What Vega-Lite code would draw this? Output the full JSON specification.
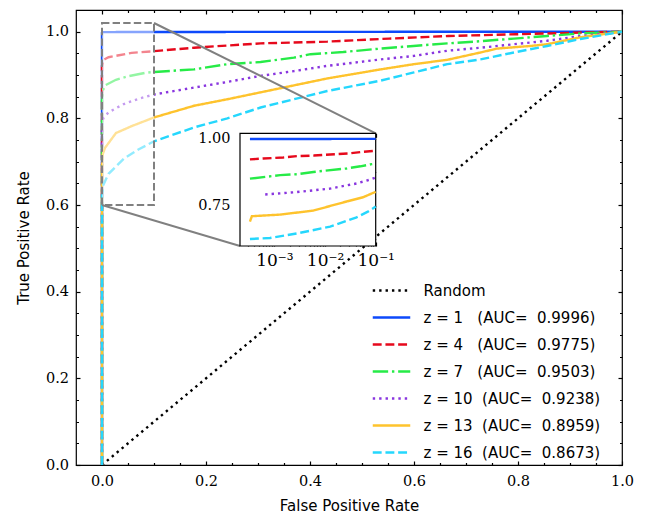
{
  "$schema": "https://vega.github.io/schema/vega-lite/v6.json",
  "width": 546,
  "height": 455,
  "autosize": "none",
  "padding": {"left": 76, "top": 10, "right": 37, "bottom": 49},
  "background": "white",
  "config": {
    "view": {"stroke": "black", "strokeWidth": 1.2},
    "axis": {
      "labelFont": "DejaVu Serif", "labelFontSize": 14.5, "labelColor": "black",
      "titleFont": "DejaVu Sans", "titleFontSize": 15, "titleFontWeight": "normal", "titleColor": "black",
      "domain": false, "ticks": true, "tickColor": "black", "tickWidth": 1.2, "tickSize": 4,
      "grid": false, "labelFlush": false, "labelOverlap": false, "labelBound": false, "zindex": 1
    }
  },
  "datasets": {
    "roc": [
      {"m": "Random", "fpr": 0, "tpr": 0}, {"m": "Random", "fpr": 1, "tpr": 1},
      {"m": "z1", "fpr": 0, "tpr": 0}, {"m": "z1", "fpr": 0, "tpr": 0.998}, {"m": "z1", "fpr": 0.00033, "tpr": 0.999}, {"m": "z1", "fpr": 0.01, "tpr": 0.999}, {"m": "z1", "fpr": 0.1, "tpr": 0.9993}, {"m": "z1", "fpr": 0.5, "tpr": 0.9996}, {"m": "z1", "fpr": 1, "tpr": 1},
      {"m": "z4", "fpr": 0, "tpr": 0}, {"m": "z4", "fpr": 0, "tpr": 0.921}, {"m": "z4", "fpr": 0.00033, "tpr": 0.923}, {"m": "z4", "fpr": 0.0006, "tpr": 0.926}, {"m": "z4", "fpr": 0.0015, "tpr": 0.93}, {"m": "z4", "fpr": 0.0028, "tpr": 0.935}, {"m": "z4", "fpr": 0.006, "tpr": 0.937}, {"m": "z4", "fpr": 0.0126, "tpr": 0.941}, {"m": "z4", "fpr": 0.03, "tpr": 0.945}, {"m": "z4", "fpr": 0.057, "tpr": 0.951}, {"m": "z4", "fpr": 0.1, "tpr": 0.955}, {"m": "z4", "fpr": 0.177, "tpr": 0.963}, {"m": "z4", "fpr": 0.241, "tpr": 0.968}, {"m": "z4", "fpr": 0.305, "tpr": 0.973}, {"m": "z4", "fpr": 0.433, "tpr": 0.977}, {"m": "z4", "fpr": 0.552, "tpr": 0.984}, {"m": "z4", "fpr": 0.666, "tpr": 0.99}, {"m": "z4", "fpr": 0.795, "tpr": 0.994}, {"m": "z4", "fpr": 0.925, "tpr": 0.998}, {"m": "z4", "fpr": 1, "tpr": 1},
      {"m": "z7", "fpr": 0, "tpr": 0}, {"m": "z7", "fpr": 0, "tpr": 0.848}, {"m": "z7", "fpr": 0.00033, "tpr": 0.851}, {"m": "z7", "fpr": 0.0013, "tpr": 0.864}, {"m": "z7", "fpr": 0.003, "tpr": 0.868}, {"m": "z7", "fpr": 0.0059, "tpr": 0.876}, {"m": "z7", "fpr": 0.0268, "tpr": 0.889}, {"m": "z7", "fpr": 0.05, "tpr": 0.897}, {"m": "z7", "fpr": 0.083, "tpr": 0.905}, {"m": "z7", "fpr": 0.1, "tpr": 0.907}, {"m": "z7", "fpr": 0.177, "tpr": 0.913}, {"m": "z7", "fpr": 0.241, "tpr": 0.925}, {"m": "z7", "fpr": 0.305, "tpr": 0.93}, {"m": "z7", "fpr": 0.369, "tpr": 0.94}, {"m": "z7", "fpr": 0.401, "tpr": 0.948}, {"m": "z7", "fpr": 0.464, "tpr": 0.953}, {"m": "z7", "fpr": 0.536, "tpr": 0.961}, {"m": "z7", "fpr": 0.599, "tpr": 0.967}, {"m": "z7", "fpr": 0.664, "tpr": 0.973}, {"m": "z7", "fpr": 0.728, "tpr": 0.978}, {"m": "z7", "fpr": 0.792, "tpr": 0.984}, {"m": "z7", "fpr": 0.856, "tpr": 0.99}, {"m": "z7", "fpr": 0.92, "tpr": 0.996}, {"m": "z7", "fpr": 1, "tpr": 1},
      {"m": "z10", "fpr": 0, "tpr": 0}, {"m": "z10", "fpr": 0, "tpr": 0.785}, {"m": "z10", "fpr": 0.00066, "tpr": 0.792}, {"m": "z10", "fpr": 0.0028, "tpr": 0.801}, {"m": "z10", "fpr": 0.0126, "tpr": 0.814}, {"m": "z10", "fpr": 0.042, "tpr": 0.833}, {"m": "z10", "fpr": 0.07, "tpr": 0.845}, {"m": "z10", "fpr": 0.1, "tpr": 0.855}, {"m": "z10", "fpr": 0.177, "tpr": 0.871}, {"m": "z10", "fpr": 0.241, "tpr": 0.884}, {"m": "z10", "fpr": 0.305, "tpr": 0.898}, {"m": "z10", "fpr": 0.369, "tpr": 0.909}, {"m": "z10", "fpr": 0.433, "tpr": 0.921}, {"m": "z10", "fpr": 0.536, "tpr": 0.936}, {"m": "z10", "fpr": 0.6, "tpr": 0.944}, {"m": "z10", "fpr": 0.664, "tpr": 0.956}, {"m": "z10", "fpr": 0.728, "tpr": 0.963}, {"m": "z10", "fpr": 0.792, "tpr": 0.971}, {"m": "z10", "fpr": 0.856, "tpr": 0.979}, {"m": "z10", "fpr": 0.92, "tpr": 0.99}, {"m": "z10", "fpr": 1, "tpr": 1},
      {"m": "z13", "fpr": 0, "tpr": 0}, {"m": "z13", "fpr": 0, "tpr": 0.69}, {"m": "z13", "fpr": 0.00033, "tpr": 0.691}, {"m": "z13", "fpr": 0.00036, "tpr": 0.711}, {"m": "z13", "fpr": 0.0013, "tpr": 0.717}, {"m": "z13", "fpr": 0.0059, "tpr": 0.732}, {"m": "z13", "fpr": 0.0268, "tpr": 0.766}, {"m": "z13", "fpr": 0.057, "tpr": 0.782}, {"m": "z13", "fpr": 0.1, "tpr": 0.802}, {"m": "z13", "fpr": 0.177, "tpr": 0.829}, {"m": "z13", "fpr": 0.241, "tpr": 0.844}, {"m": "z13", "fpr": 0.305, "tpr": 0.86}, {"m": "z13", "fpr": 0.369, "tpr": 0.876}, {"m": "z13", "fpr": 0.433, "tpr": 0.892}, {"m": "z13", "fpr": 0.536, "tpr": 0.913}, {"m": "z13", "fpr": 0.6, "tpr": 0.925}, {"m": "z13", "fpr": 0.664, "tpr": 0.935}, {"m": "z13", "fpr": 0.728, "tpr": 0.952}, {"m": "z13", "fpr": 0.76, "tpr": 0.961}, {"m": "z13", "fpr": 0.824, "tpr": 0.967}, {"m": "z13", "fpr": 0.856, "tpr": 0.971}, {"m": "z13", "fpr": 0.888, "tpr": 0.979}, {"m": "z13", "fpr": 0.92, "tpr": 0.987}, {"m": "z13", "fpr": 1, "tpr": 1},
      {"m": "z16", "fpr": 0, "tpr": 0}, {"m": "z16", "fpr": 0, "tpr": 0.624}, {"m": "z16", "fpr": 0.00033, "tpr": 0.626}, {"m": "z16", "fpr": 0.00082, "tpr": 0.63}, {"m": "z16", "fpr": 0.0028, "tpr": 0.647}, {"m": "z16", "fpr": 0.0126, "tpr": 0.672}, {"m": "z16", "fpr": 0.042, "tpr": 0.707}, {"m": "z16", "fpr": 0.07, "tpr": 0.728}, {"m": "z16", "fpr": 0.1, "tpr": 0.747}, {"m": "z16", "fpr": 0.177, "tpr": 0.779}, {"m": "z16", "fpr": 0.241, "tpr": 0.8}, {"m": "z16", "fpr": 0.305, "tpr": 0.825}, {"m": "z16", "fpr": 0.369, "tpr": 0.844}, {"m": "z16", "fpr": 0.433, "tpr": 0.863}, {"m": "z16", "fpr": 0.536, "tpr": 0.887}, {"m": "z16", "fpr": 0.6, "tpr": 0.906}, {"m": "z16", "fpr": 0.664, "tpr": 0.925}, {"m": "z16", "fpr": 0.728, "tpr": 0.936}, {"m": "z16", "fpr": 0.792, "tpr": 0.952}, {"m": "z16", "fpr": 0.856, "tpr": 0.967}, {"m": "z16", "fpr": 0.92, "tpr": 0.983}, {"m": "z16", "fpr": 1, "tpr": 1}
    ],
    "box": [{"x0": 0, "x1": 0.1, "y0": 0.6, "y1": 1.02}],
    "conn": [
      {"x0": 0.1, "y0": 1.02, "x1": 0.5264, "y1": 0.7655},
      {"x0": 0, "y0": 0.6, "x1": 0.2654, "y1": 0.5054}
    ],
    "inset": [{"x0": 0.00021, "x1": 0.1, "y0": 0.6, "y1": 1.02}]
  },
  "resolve": {"scale": {"x": "independent", "y": "independent"}},
  "layer": [
    {
      "resolve": {"axis": {"x": "independent", "y": "independent"}},
      "layer": [
        {
          "data": {"name": "roc"},
          "mark": {"type": "line", "strokeWidth": 2.4},
          "encoding": {
            "x": {
              "field": "fpr", "type": "quantitative",
              "scale": {"domain": [-0.05, 1], "nice": false, "zero": false},
              "axis": {
                "orient": "bottom", "offset": -4,
                "values": [0, 0.05, 0.1, 0.15, 0.2, 0.25, 0.3, 0.35, 0.4, 0.45, 0.5, 0.55, 0.6, 0.65, 0.7, 0.75, 0.8, 0.85, 0.9, 0.95, 1],
                "tickDash": {"condition": {"test": "abs(datum.value*5-round(datum.value*5))<0.001", "value": [10, 0]}, "value": [0, 1.5, 2.5, 20]},
                "labelExpr": "abs(datum.value*5-round(datum.value*5))<0.001 ? format(datum.value, '.1f') : ''",
                "labelPadding": 9,
                "title": "False Positive Rate", "titleY": 49, "titleBaseline": "alphabetic"
              }
            },
            "y": {
              "field": "tpr", "type": "quantitative",
              "scale": {"domain": [0, 1.05], "nice": false, "zero": false},
              "axis": {
                "orient": "left", "offset": -4,
                "values": [0, 0.05, 0.1, 0.15, 0.2, 0.25, 0.3, 0.35, 0.4, 0.45, 0.5, 0.55, 0.6, 0.65, 0.7, 0.75, 0.8, 0.85, 0.9, 0.95, 1],
                "tickDash": {"condition": {"test": "abs(datum.value*5-round(datum.value*5))<0.001", "value": [10, 0]}, "value": [0, 1.5, 2.5, 20]},
                "labelExpr": "abs(datum.value*5-round(datum.value*5))<0.001 ? format(datum.value, '.1f') : ''",
                "labelPadding": 7.5,
                "title": "True Positive Rate", "titleX": -51.7, "titleBaseline": "alphabetic"
              }
            },
            "color": {
              "field": "m", "type": "nominal",
              "scale": {"domain": ["Random", "z1", "z4", "z7", "z10", "z13", "z16"], "range": ["#000000", "#0d49fb", "#e6091c", "#26eb47", "#8936df", "#fec32d", "#25d7fd"]},
              "legend": {
                "title": null, "orient": "none", "legendX": 306.5, "legendY": 271.5, "padding": 0,
                "symbolType": "M-2.5,0H2.5", "symbolSize": 225, "symbolStrokeWidth": 2.4,
                "labelFont": "DejaVu Sans", "labelFontSize": 15, "labelColor": "black", "labelLimit": 400,
                "rowPadding": 10, "labelOffset": 23,
                "labelExpr": "datum.label=='Random' ? 'Random' : datum.label=='z1' ? 'z\u00a0=\u00a01\u00a0\u00a0\u00a0(AUC=\u00a0\u00a00.9996)' : datum.label=='z4' ? 'z\u00a0=\u00a04\u00a0\u00a0\u00a0(AUC=\u00a0\u00a00.9775)' : datum.label=='z7' ? 'z\u00a0=\u00a07\u00a0\u00a0\u00a0(AUC=\u00a0\u00a00.9503)' : datum.label=='z10' ? 'z\u00a0=\u00a010\u00a0\u00a0(AUC=\u00a0\u00a00.9238)' : datum.label=='z13' ? 'z\u00a0=\u00a013\u00a0\u00a0(AUC=\u00a0\u00a00.8959)' : 'z\u00a0=\u00a016\u00a0\u00a0(AUC=\u00a0\u00a00.8673)'"
              }
            },
            "strokeDash": {
              "field": "m", "type": "nominal",
              "scale": {"domain": ["Random", "z1", "z4", "z7", "z10", "z13", "z16"], "range": [[2.4, 4], [1, 0], [8.9, 3.8], [15.4, 3.8, 2.4, 3.8], [2.4, 4], [1, 0], [8.9, 3.8]]},
              "legend": {
                "title": null, "orient": "none", "legendX": 306.5, "legendY": 271.5, "padding": 0,
                "symbolType": "M-2.5,0H2.5", "symbolSize": 225, "symbolStrokeWidth": 2.4,
                "labelFont": "DejaVu Sans", "labelFontSize": 15, "labelColor": "black", "labelLimit": 400,
                "rowPadding": 10, "labelOffset": 23,
                "labelExpr": "datum.label=='Random' ? 'Random' : datum.label=='z1' ? 'z\u00a0=\u00a01\u00a0\u00a0\u00a0(AUC=\u00a0\u00a00.9996)' : datum.label=='z4' ? 'z\u00a0=\u00a04\u00a0\u00a0\u00a0(AUC=\u00a0\u00a00.9775)' : datum.label=='z7' ? 'z\u00a0=\u00a07\u00a0\u00a0\u00a0(AUC=\u00a0\u00a00.9503)' : datum.label=='z10' ? 'z\u00a0=\u00a010\u00a0\u00a0(AUC=\u00a0\u00a00.9238)' : datum.label=='z13' ? 'z\u00a0=\u00a013\u00a0\u00a0(AUC=\u00a0\u00a00.8959)' : 'z\u00a0=\u00a016\u00a0\u00a0(AUC=\u00a0\u00a00.8673)'"
              }
            },
            "order": [{"field": "fpr", "type": "quantitative"}, {"field": "tpr", "type": "quantitative"}]
          }
        },
        {
          "data": {"name": "box"},
          "mark": {"type": "rect", "fill": "white", "fillOpacity": 0.5, "stroke": "#808080", "strokeWidth": 2, "strokeDash": [7.4, 3.2]},
          "encoding": {
            "x": {
              "field": "x0", "type": "quantitative",
              "scale": {"domain": [-0.05, 1], "nice": false, "zero": false},
              "axis": {
                "orient": "top", "offset": -4,
                "values": [0, 0.05, 0.1, 0.15, 0.2, 0.25, 0.3, 0.35, 0.4, 0.45, 0.5, 0.55, 0.6, 0.65, 0.7, 0.75, 0.8, 0.85, 0.9, 0.95, 1],
                "tickDash": {"condition": {"test": "abs(datum.value*5-round(datum.value*5))<0.001", "value": [10, 0]}, "value": [0, 1.5, 2.5, 20]},
                "labels": false, "title": null
              }
            },
            "x2": {"field": "x1"},
            "y": {
              "field": "y0", "type": "quantitative",
              "scale": {"domain": [0, 1.05], "nice": false, "zero": false},
              "axis": {
                "orient": "right", "offset": -4,
                "values": [0, 0.05, 0.1, 0.15, 0.2, 0.25, 0.3, 0.35, 0.4, 0.45, 0.5, 0.55, 0.6, 0.65, 0.7, 0.75, 0.8, 0.85, 0.9, 0.95, 1],
                "tickDash": {"condition": {"test": "abs(datum.value*5-round(datum.value*5))<0.001", "value": [10, 0]}, "value": [0, 1.5, 2.5, 20]},
                "labels": false, "title": null
              }
            },
            "y2": {"field": "y1"}
          }
        },
        {
          "data": {"name": "conn"},
          "mark": {"type": "rule", "stroke": "#808080", "strokeWidth": 2},
          "encoding": {
            "x": {"field": "x0", "type": "quantitative", "scale": {"domain": [-0.05, 1], "nice": false, "zero": false}, "axis": null},
            "x2": {"field": "x1"},
            "y": {"field": "y0", "type": "quantitative", "scale": {"domain": [0, 1.05], "nice": false, "zero": false}, "axis": null},
            "y2": {"field": "y1"}
          }
        }
      ]
    },
    {
      "resolve": {"axis": {"x": "independent", "y": "independent"}},
      "layer": [
        {
          "data": {"name": "inset"},
          "mark": {"type": "rect", "fill": "white", "stroke": "black", "strokeWidth": 1.2},
          "encoding": {
            "x": {
              "field": "x0", "type": "quantitative",
              "scale": {"type": "log", "domain": [0.00021, 0.1], "range": [164, 299.7], "nice": false},
              "axis": {
                "orient": "bottom", "offset": -223,
                "values": [0.0003, 0.0004, 0.0005, 0.0006, 0.0007, 0.0008, 0.0009, 0.001, 0.002, 0.003, 0.004, 0.005, 0.006, 0.007, 0.008, 0.009, 0.01, 0.02, 0.03, 0.04, 0.05, 0.06, 0.07, 0.08, 0.09, 0.1],
                "tickDash": {"condition": {"test": "datum.value==0.001||datum.value==0.01||datum.value==0.1", "value": [10, 0]}, "value": [0, 1.7, 2.3, 20]},
                "labelExpr": "datum.value==0.001 ? '10⁻³' : datum.value==0.01 ? '10⁻²' : datum.value==0.1 ? '10⁻¹' : ''",
                "labelFontSize": 17,
                "labelPadding": 6,
                "title": null
              }
            },
            "x2": {"field": "x1"},
            "y": {
              "field": "y0", "type": "quantitative",
              "scale": {"domain": [0.6, 1.02], "range": [236, 123.3], "nice": false, "zero": false},
              "axis": {
                "orient": "left", "offset": -168,
                "values": [0.625, 0.75, 0.875, 1],
                "labelExpr": "datum.value==1||datum.value==0.75 ? format(datum.value, '.2f') : ''",
                "labelPadding": 10,
                "title": null
              }
            },
            "y2": {"field": "y1"}
          }
        },
        {
          "data": {"name": "roc"},
          "transform": [{"filter": "datum.fpr > 0 && datum.fpr <= 0.1 && datum.m != 'Random'"}],
          "mark": {"type": "line", "strokeWidth": 2.4},
          "encoding": {
            "x": {
              "field": "fpr", "type": "quantitative",
              "scale": {"type": "log", "domain": [0.00021, 0.1], "range": [164, 299.7], "nice": false},
              "axis": {
                "orient": "top", "offset": -127.3,
                "values": [0.0003, 0.0004, 0.0005, 0.0006, 0.0007, 0.0008, 0.0009, 0.001, 0.002, 0.003, 0.004, 0.005, 0.006, 0.007, 0.008, 0.009, 0.01, 0.02, 0.03, 0.04, 0.05, 0.06, 0.07, 0.08, 0.09, 0.1],
                "tickDash": {"condition": {"test": "datum.value==0.001||datum.value==0.01||datum.value==0.1", "value": [10, 0]}, "value": [0, 1.7, 2.3, 20]},
                "labels": false, "title": null
              }
            },
            "y": {
              "field": "tpr", "type": "quantitative",
              "scale": {"domain": [0.6, 1.02], "range": [236, 123.3], "nice": false, "zero": false},
              "axis": {
                "orient": "right", "offset": -250.3,
                "values": [0.625, 0.75, 0.875, 1],
                "labels": false, "title": null
              }
            },
            "color": {
              "field": "m", "type": "nominal",
              "scale": {"domain": ["Random", "z1", "z4", "z7", "z10", "z13", "z16"], "range": ["#000000", "#0d49fb", "#e6091c", "#26eb47", "#8936df", "#fec32d", "#25d7fd"]},
              "legend": null
            },
            "strokeDash": {
              "field": "m", "type": "nominal",
              "scale": {"domain": ["Random", "z1", "z4", "z7", "z10", "z13", "z16"], "range": [[2.4, 4], [1, 0], [8.9, 3.8], [15.4, 3.8, 2.4, 3.8], [2.4, 4], [1, 0], [8.9, 3.8]]},
              "legend": null
            },
            "order": [{"field": "fpr", "type": "quantitative"}, {"field": "tpr", "type": "quantitative"}]
          }
        }
      ]
    }
  ]
}
